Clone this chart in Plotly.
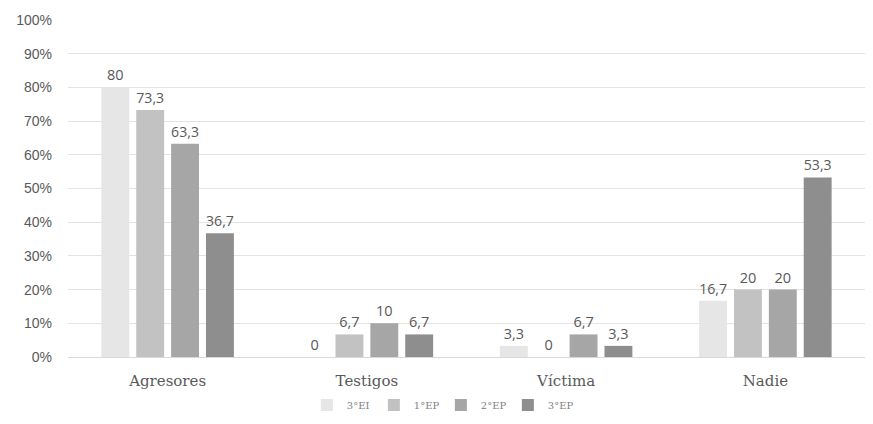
import plotly.graph_objects as go

categories = ["Agresores", "Testigos", "Víctima", "Nadie"]
series_names = ["3°EI", "1°EP", "2°EP", "3°EP"]
values = {
    "3°EI": [80, 0, 3.3, 16.7],
    "1°EP": [73.3, 6.7, 0, 20],
    "2°EP": [63.3, 10, 6.7, 20],
    "3°EP": [36.7, 6.7, 3.3, 53.3],
}
y_ticks = [0, 10, 20, 30, 40, 50, 60, 70, 80, 90, 100]
colors = ["#e6e6e6", "#c2c2c2", "#a6a6a6", "#8e8e8e"]


def fmt(v):
    s = f"{v:g}"
    return s.replace(".", ",")


fig = go.Figure()
for name, col in zip(series_names, colors):
    vals = values[name]
    fig.add_trace(go.Bar(
        name=name,
        x=categories,
        y=vals,
        marker=dict(color=col, line=dict(width=0)),
        text=[fmt(v) for v in vals],
        textposition="outside",
        textfont=dict(family="Open Sans, Liberation Sans, sans-serif", size=14.5, color="#595959"),
        cliponaxis=False,
    ))

fig.update_layout(
    width=873,
    height=424,
    margin=dict(l=68, r=8, t=20, b=67, autoexpand=False),
    paper_bgcolor="white",
    plot_bgcolor="white",
    barmode="group",
    bargap=0.3,
    bargroupgap=0.2,
    showlegend=True,
    legend=dict(
        orientation="h",
        xref="container", yref="container",
        x=0.505, xanchor="center",
        y=0.045, yanchor="middle",
        font=dict(family="DejaVu Serif, serif", size=10, color="#7f7f7f"),
        entrywidth=22,
        entrywidthmode="pixels",
        itemwidth=30,
        tracegroupgap=0,
    ),
    xaxis=dict(
        showgrid=False,
        showline=True,
        linecolor="#d9d9d9",
        linewidth=1,
        ticks="",
        ticklabelstandoff=10,
        tickfont=dict(family="DejaVu Serif, serif", size=15, color="#595959"),
    ),
    yaxis=dict(
        range=[0, 100],
        tickvals=y_ticks,
        ticktext=[f"{v}%" for v in y_ticks],
        showgrid=True,
        gridcolor="#e3e3e3",
        gridwidth=1,
        zeroline=False,
        showline=False,
        ticks="",
        ticklabelstandoff=15,
        tickfont=dict(family="Liberation Sans, sans-serif", size=14, color="#595959"),
    ),
)

fig.write_html("out.html")
